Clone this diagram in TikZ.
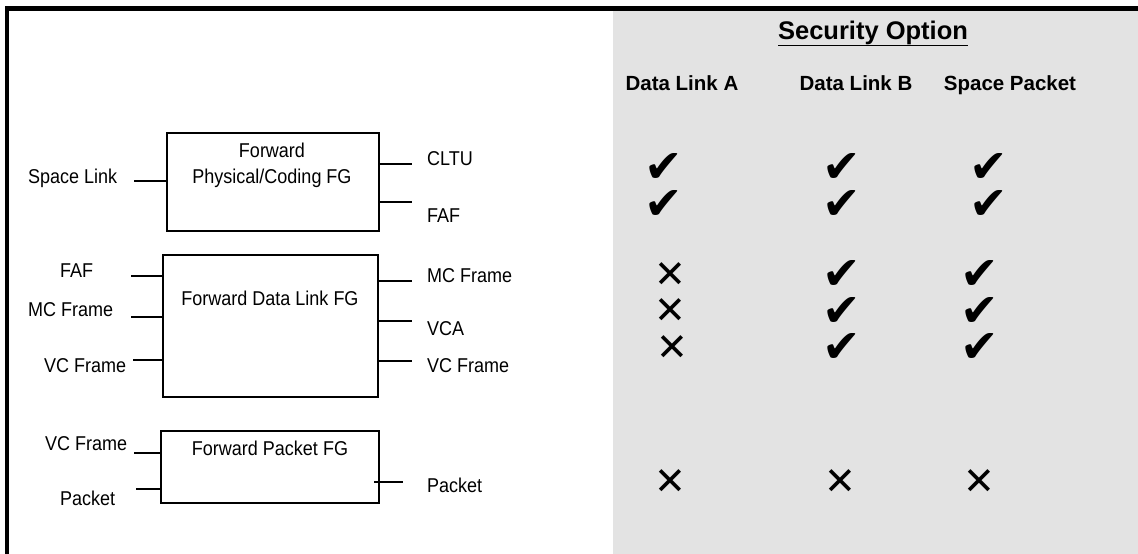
\documentclass[tikz,border=0pt]{standalone}
\usepackage{fontspec}
\setmainfont{Liberation Sans}[FakeStretch=0.9]
\newfontfamily\hdfont{Liberation Sans}
\newfontfamily\symfont{DejaVu Sans}
\definecolor{panelgrey}{RGB}{227,227,227}
\begin{document}
\begin{tikzpicture}[x=1pt,y=-1pt,
  lbl/.style={inner sep=0pt,font=\fontsize{20}{24}\selectfont},
  hdr/.style={inner sep=0pt,font=\hdfont\bfseries\fontsize{20.5}{24}\selectfont},
  fgbox/.style={draw,line width=2pt,inner sep=0pt},
  stub/.style={line width=2pt},
  yes/.style={inner sep=0pt,font=\symfont\fontsize{46}{48}\selectfont},
  no/.style={inner sep=0pt,font=\symfont\fontsize{38}{40}\selectfont}]
\useasboundingbox (0,0) rectangle (1138,554);
% background panel and frame
\fill[white] (0,0) rectangle (1138,554);
\fill[panelgrey] (613,11) rectangle (1138,554);
\fill[black] (5,6) rectangle (1138,11);
\fill[black] (5,6) rectangle (9,554);

% boxes
\node[fgbox,minimum width=212pt,minimum height=98pt] (phys) at (273,182) {};
\node[fgbox,minimum width=215pt,minimum height=142pt] (dlink) at (270.5,326) {};
\node[fgbox,minimum width=218pt,minimum height=72pt] (pkt) at (270,467) {};

% box titles
\node[lbl,anchor=base] (physA) at (272,157) {Forward};
\node[lbl,anchor=base] (physB) at (272,183) {Physical/Coding FG};
\node[lbl,anchor=base] (dlT) at (270,305) {Forward Data Link FG};
\node[lbl,anchor=base] (pkT) at (270,455) {Forward Packet FG};

% left labels
\node[lbl,anchor=base west] (lSL) at (28,183) {Space Link};
\node[lbl,anchor=base west] (lFAF) at (60,277) {FAF};
\node[lbl,anchor=base west] (lMC) at (28,316) {MC Frame};
\node[lbl,anchor=base west] (lVC) at (44,372) {VC Frame};
\node[lbl,anchor=base west] (lVC2) at (45,450) {VC Frame};
\node[lbl,anchor=base west] (lPk) at (60,505) {Packet};

% right labels
\node[lbl,anchor=base west] (rCLTU) at (427,165) {CLTU};
\node[lbl,anchor=base west] (rFAF) at (427,222) {FAF};
\node[lbl,anchor=base west] (rMC) at (427,282) {MC Frame};
\node[lbl,anchor=base west] (rVCA) at (427,335) {VCA};
\node[lbl,anchor=base west] (rVC) at (427,372) {VC Frame};
\node[lbl,anchor=base west] (rPk) at (427,492) {Packet};

% stub end coordinates
\coordinate (sSL) at (134,181);
\coordinate (sFAF) at (131,276);
\coordinate (sMC) at (131,317);
\coordinate (sVC) at (133,360);
\coordinate (sVC2) at (134,453);
\coordinate (sPk) at (136,489);
\coordinate (tCLTU) at (412,164);
\coordinate (tFAF) at (412,202);
\coordinate (tMC) at (412,281);
\coordinate (tVCA) at (412,321);
\coordinate (tVC) at (412,361);
\coordinate (tPk) at (403,482);

\draw[stub] (sSL) -- (phys.west |- sSL);
\draw[stub] (sFAF) -- (dlink.west |- sFAF);
\draw[stub] (sMC) -- (dlink.west |- sMC);
\draw[stub] (sVC) -- (dlink.west |- sVC);
\draw[stub] (sVC2) -- (pkt.west |- sVC2);
\draw[stub] (sPk) -- (pkt.west |- sPk);
\draw[stub] (phys.east |- tCLTU) -- (tCLTU);
\draw[stub] (phys.east |- tFAF) -- (tFAF);
\draw[stub] (dlink.east |- tMC) -- (tMC);
\draw[stub] (dlink.east |- tVCA) -- (tVCA);
\draw[stub] (dlink.east |- tVC) -- (tVC);
\draw[stub] ([xshift=-6pt]pkt.east |- tPk) -- (tPk);

% headers
\node[hdr,font=\hdfont\bfseries\fontsize{25.5}{28}\selectfont,anchor=base] (sec) at (873,39) {\underline{Security Option}};
\node[hdr,anchor=base] (hA) at (682,90) {Data Link A};
\node[hdr,anchor=base] (hB) at (856,90) {Data Link B};
\node[hdr,anchor=base] (hC) at (1010,90) {Space Packet};

% marks column A
\node[yes] (a1) at (664,168) {✔};
\node[yes] (a2) at (664,205) {✔};
\node[no] (a3) at (670,275) {✕};
\node[no] (a4) at (670,311) {✕};
\node[no] (a5) at (672,348) {✕};
\node[no] (a6) at (670,482) {✕};
% column B
\node[yes] (b1) at (842,168) {✔};
\node[yes] (b2) at (842,205) {✔};
\node[yes] (b3) at (842,275) {✔};
\node[yes] (b4) at (842,312) {✔};
\node[yes] (b5) at (842,348) {✔};
\node[no] (b6) at (840,482) {✕};
% column C
\node[yes] (c1) at (989,168) {✔};
\node[yes] (c2) at (989,205) {✔};
\node[yes] (c3) at (980,275) {✔};
\node[yes] (c4) at (980,312) {✔};
\node[yes] (c5) at (980,348) {✔};
\node[no] (c6) at (979,482) {✕};
\end{tikzpicture}
\end{document}
